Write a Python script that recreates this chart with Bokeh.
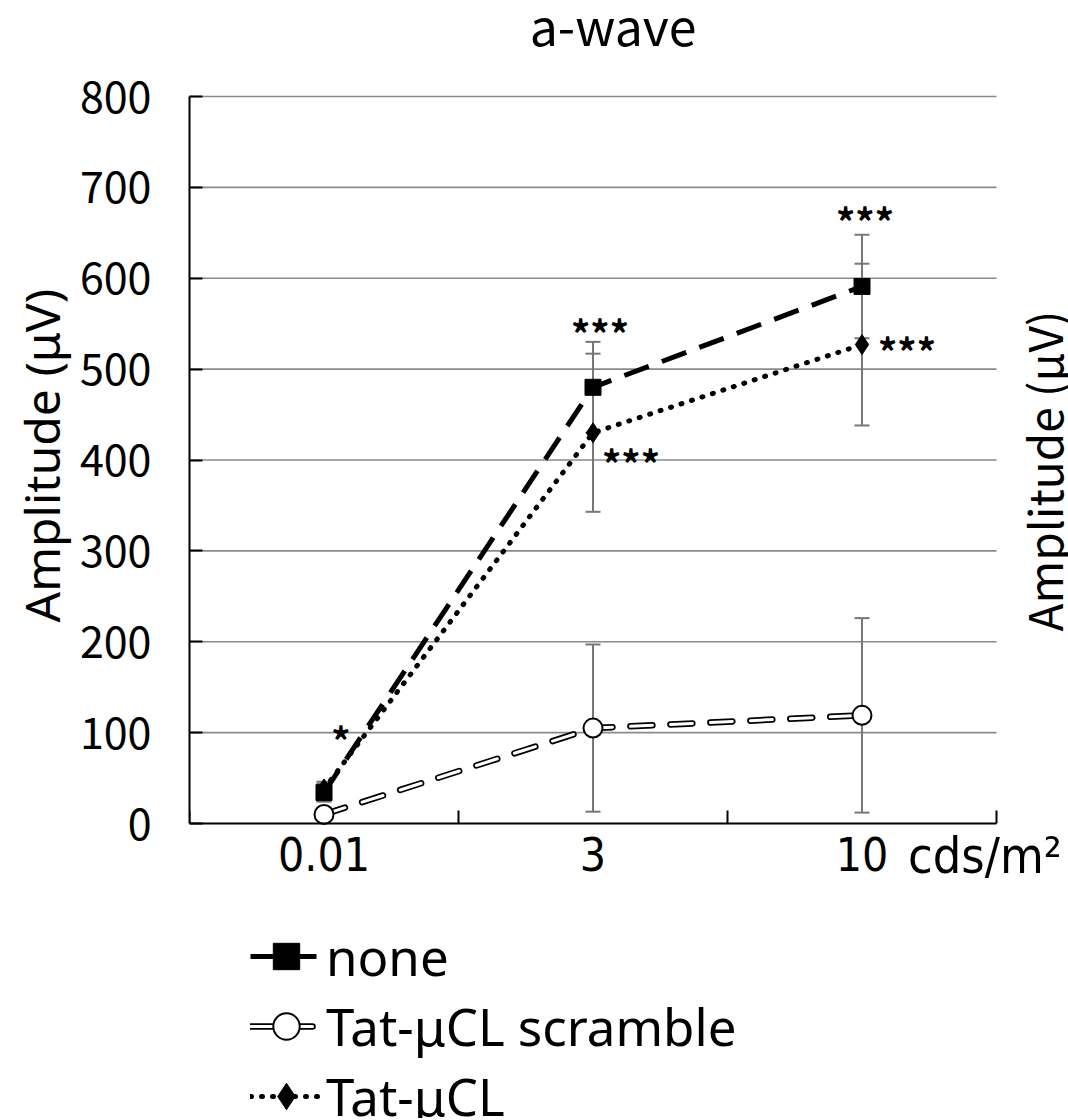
import numpy as np
from bokeh.plotting import figure
from bokeh.models import (FixedTicker, Whisker, TeeHead, Legend, LegendItem,
                          ColumnDataSource, Range1d, Title)
from bokeh.core.properties import value
from bokeh.embed import file_html
from bokeh.resources import INLINE

# ---------------- data ----------------
categories = ["0.01", "3", "10"]
none_mean = [34, 480, 591]
none_err = [10, 50, 57]
scr_mean = [10, 105, 119]
scr_err = [5, 92, 107]
tat_mean = [38, 430, 527]
tat_err = [8, 87, 89]

ann_text = ["*", "***", "***", "***", "***"]
ann_cat = ["0.01", "3", "3", "10", "10"]
ann_val = [92, 540, 397, 663, 520]

y_ticks = [0, 100, 200, 300, 400, 500, 600, 700, 800]
y_max = 800
chart_title = "a-wave"
unit_label = "cds/m²"
y_title = "Amplitude (μV)"

FONT = "Noto Sans CJK JP"
LATIN = "Noto Sans"
NARROW = "DejaVu Sans Condensed"

# ---------------- layout (pixels) ----------------
W, H = 1068, 1118
LEFT = 189                 # left edge of the axes box
BOX_TOP, BOX_BOTTOM = 96, 823
PLOT_W = 807
FRAME_W, FRAME_H = W - LEFT, H
px_per_cat = PLOT_W / len(categories)
px_per_unit = (BOX_BOTTOM - BOX_TOP) / y_max

xpos = list(range(len(categories)))
cat_index = {c: i for i, c in enumerate(categories)}
x_lo, x_hi = -0.5, len(categories) - 0.5

p = figure(frame_width=FRAME_W, frame_height=FRAME_H, width=W, height=H,
           min_border_left=LEFT, min_border_right=0, min_border_top=0,
           min_border_bottom=0, output_backend="svg", toolbar_location=None,
           x_range=Range1d(x_lo, x_lo + FRAME_W / px_per_cat),
           y_range=Range1d(-(H - BOX_BOTTOM) / px_per_unit, y_max + BOX_TOP / px_per_unit))
p.outline_line_color = None
p.background_fill_color = "white"
p.title.visible = False

# y axis
p.yaxis.bounds = (0, y_max)
p.yaxis.ticker = FixedTicker(ticks=y_ticks)
p.yaxis.major_tick_in = 13
p.yaxis.major_tick_out = 0
p.yaxis.minor_tick_line_color = None
p.yaxis.axis_line_width = 2
p.yaxis.major_tick_line_width = 2
p.yaxis.major_label_text_font = FONT
p.yaxis.major_label_text_font_size = "43px"
p.yaxis.major_label_text_color = "black"
p.yaxis.major_label_standoff = 38

# y axis title, placed along the 0..800 part of the axis
ytitle = Title(text=y_title, align="left", offset=H - BOX_BOTTOM + 201,
               text_font=LATIN, text_font_size="48px", text_font_style="normal",
               text_color="black", standoff=6)
p.add_layout(ytitle, "left")

# x axis, fixed at y = 0 inside the frame
p.xaxis.fixed_location = 0
p.xaxis.bounds = (x_lo, x_hi)
p.xaxis.ticker = FixedTicker(ticks=xpos, minor_ticks=[i - 0.5 for i in range(len(categories) + 1)])
p.xaxis.major_label_overrides = {i: c for i, c in enumerate(categories)}
p.xaxis.major_tick_line_color = None
p.xaxis.minor_tick_in = 13
p.xaxis.minor_tick_out = 0
p.xaxis.minor_tick_line_width = 2
p.xaxis.minor_tick_line_color = "black"
p.xaxis.axis_line_width = 2
p.xaxis.major_label_text_font = NARROW
p.xaxis.major_label_text_font_size = "46px"
p.xaxis.major_label_text_color = "black"
p.xaxis.major_label_standoff = 7

# horizontal grid lines limited to the axes box
p.xgrid.grid_line_color = None
p.ygrid.grid_line_color = None
gy = [t for t in y_ticks if t > 0]
p.segment(x0=[x_lo] * len(gy), x1=[x_hi] * len(gy), y0=gy, y1=gy,
          line_color="#8a8a8a", line_width=1.6, level="underlay")

# chart title
p.text(x=[(len(categories) - 1) / 2], y=[y_max], text=[chart_title], x_offset=[20],
       y_offset=[-73], text_align="center", text_baseline="alphabetic",
       text_font=value(FONT), text_font_size="50px", text_color="black")

# ---------------- series ----------------
r_none_line = p.line(xpos, none_mean, line_color="black", line_width=5, line_dash="26 14")
r_scr_outer = p.line(xpos, scr_mean, line_color="black", line_width=6.5, line_dash="22 18",
                     line_cap="round")
r_scr_inner = p.line(xpos, scr_mean, line_color="white", line_width=3, line_dash="22 18",
                     line_cap="round")
r_tat_line = p.line(xpos, tat_mean, line_color="black", line_width=5, line_dash="1 10",
                    line_cap="round")

for mean, err in [(none_mean, none_err), (scr_mean, scr_err), (tat_mean, tat_err)]:
    src = ColumnDataSource(dict(x=xpos, lo=[m - e for m, e in zip(mean, err)],
                                hi=[m + e for m, e in zip(mean, err)]))
    w = Whisker(source=src, base="x", lower="lo", upper="hi", dimension="height",
                line_color="#777777", line_width=2,
                upper_head=TeeHead(size=15, line_color="#777777", line_width=2),
                lower_head=TeeHead(size=15, line_color="#777777", line_width=2))
    p.add_layout(w)

r_none_mk = p.scatter(xpos, none_mean, marker="square", size=16, fill_color="black",
                      line_color="black")
r_scr_mk = p.scatter(xpos, scr_mean, marker="circle", size=19, fill_color="white",
                     line_color="black", line_width=2)
r_tat_mk = p.scatter(xpos, tat_mean, marker="diamond", size=20, fill_color="black",
                     line_color="black")

# significance marks
ann_offsets = [17, 7, 38, 3, 45]
ann_src = ColumnDataSource(dict(x=[cat_index[c] for c in ann_cat], y=ann_val, t=ann_text,
                                xo=ann_offsets))
p.text(x="x", y="y", text="t", x_offset="xo", source=ann_src, text_align="center",
       text_baseline="middle", text_font=value(FONT), text_font_size="38px",
       text_font_style="bold", text_color="black")

# unit after the last category label (cut by the page edge as in the source)
p.text(x=[len(categories) - 1], y=[0], text=[unit_label], x_offset=[46], y_offset=[32],
       text_align="left", text_baseline="middle", text_font=value(NARROW),
       text_font_size="50px", text_color="black")

# second axis title at the right edge (cut by the page edge as in the source)
p.text(x=[x_hi], y=[y_max / 2], text=[y_title], x_offset=[13], y_offset=[11],
       angle=np.pi / 2, text_align="center", text_baseline="top",
       text_font=value(FONT), text_font_size="46px", text_color="black")

# legend
legend = Legend(items=[
    LegendItem(label="none", renderers=[r_none_line, r_none_mk]),
    LegendItem(label="Tat-μCL scramble", renderers=[r_scr_outer, r_scr_inner, r_scr_mk]),
    LegendItem(label="Tat-μCL", renderers=[r_tat_line, r_tat_mk]),
], location=(61, -13), orientation="vertical")
legend.border_line_color = None
legend.background_fill_alpha = 0
legend.label_text_font = LATIN
legend.label_text_font_size = "51px"
legend.label_text_color = "black"
legend.glyph_width = 72
legend.glyph_height = 66
legend.label_height = 66
legend.label_standoff = 4
legend.spacing = -3
legend.padding = 0
legend.margin = 0
p.add_layout(legend)

open("out.html", "w").write(file_html(p, INLINE))
